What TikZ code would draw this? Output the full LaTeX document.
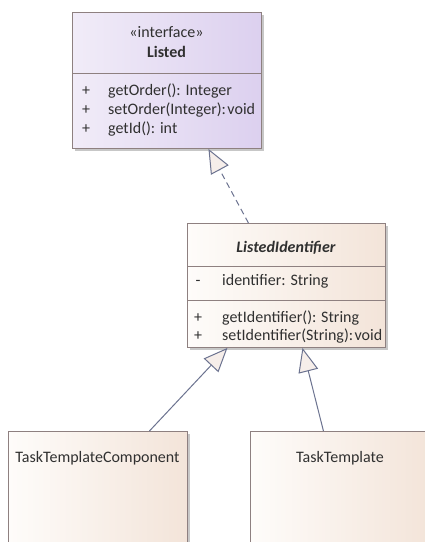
\documentclass[tikz,border=0pt]{standalone}
\usepackage{fontspec}
\setmainfont{Carlito}
\usetikzlibrary{arrows.meta,shadows}
\definecolor{edgec}{HTML}{8E8080}
\definecolor{linkc}{HTML}{6C7390}
\definecolor{tipc}{HTML}{F6EEEA}
\definecolor{ifL}{HTML}{F1ECF8}
\definecolor{ifR}{HTML}{DCD0EF}
\definecolor{clL}{HTML}{FEFCFA}
\definecolor{clR}{HTML}{F3E4D9}
\definecolor{txt}{HTML}{303030}
\tikzset{
  x=1pt, y=-1pt,
  umlbox/.style={draw=edgec, line width=0.9pt, anchor=north west, inner sep=0pt,
    drop shadow={shadow xshift=3pt, shadow yshift=-3pt, fill=black!22, opacity=1}},
  ifbox/.style={umlbox, left color=ifL, right color=ifR},
  clbox/.style={umlbox, left color=clL, right color=clR},
  sep/.style={draw=edgec, line width=0.9pt},
  lbl/.style={text=txt, font=\fontsize{16}{18}\selectfont, inner sep=0pt},
  vis/.style={lbl, anchor=base},
  member/.style={lbl, anchor=base west},
  gen/.style={draw=linkc, line width=1pt,
    -{Triangle[length=24pt,width=20pt,fill=tipc,line width=1pt]}},
}
\newcommand{\tightsp}{\hspace{1.5pt}}
\begin{document}
\begin{tikzpicture}
\clip (0,0) rectangle (425,542);
\fill[white] (0,0) rectangle (425,542);

% interface Listed
\node[ifbox, minimum width=189pt, minimum height=136pt] (listed) at (72,12) {};
\draw[sep] (72,73) -- (261,73);
\node[lbl, anchor=base] (ster) at (166.5,37) {«interface»};
\node[lbl, anchor=base, font=\fontsize{16}{18}\selectfont\bfseries] (lname) at (166.5,57) {Listed};
\node[vis] (v1) at (86,95) {+};
\node[vis] (v2) at (86,114) {+};
\node[vis] (v3) at (86,133) {+};
\node[member] (m1) at (108,95) {getOrder(): Integer};
\node[member] (m2) at (108,114) {setOrder(Integer):\tightsp void};
\node[member] (m3) at (108,133) {getId(): int};

% abstract class ListedIdentifier
\node[clbox, minimum width=198pt, minimum height=124pt] (li) at (187,223) {};
\draw[sep] (187,266) -- (385,266);
\draw[sep] (187,300) -- (385,300);
\node[lbl, anchor=base, font=\fontsize{16}{18}\selectfont\bfseries\itshape] (liname) at (286,252) {ListedIdentifier};
\node[vis] (a1) at (198,285) {-};
\node[member] (f1) at (222,285) {identifier: String};
\node[vis] (b1) at (198,322) {+};
\node[vis] (b2) at (198,340) {+};
\node[member] (g1) at (222,322) {getIdentifier(): String};
\node[member] (g2) at (222,340) {setIdentifier(String):\tightsp void};

% concrete classes
\node[clbox, minimum width=179pt, minimum height=140pt] (ttc) at (8,431) {};
\node[lbl, anchor=base] (ttcname) at (97.5,462) {TaskTemplateComponent};
\node[clbox, minimum width=180pt, minimum height=140pt] (tt) at (250,431) {};
\node[lbl, anchor=base] (ttname) at (340,462) {TaskTemplate};

% relations
\draw[gen, dashed, dash pattern=on 6pt off 4pt] ([xshift=-38pt]li.north) -- ([xshift=41.5pt]listed.south);
\draw[gen] ([xshift=51.5pt]ttc.north) -- ([xshift=-59pt]li.south);
\draw[gen] ([xshift=-17pt]tt.north) -- ([xshift=16pt]li.south);
\end{tikzpicture}
\end{document}
